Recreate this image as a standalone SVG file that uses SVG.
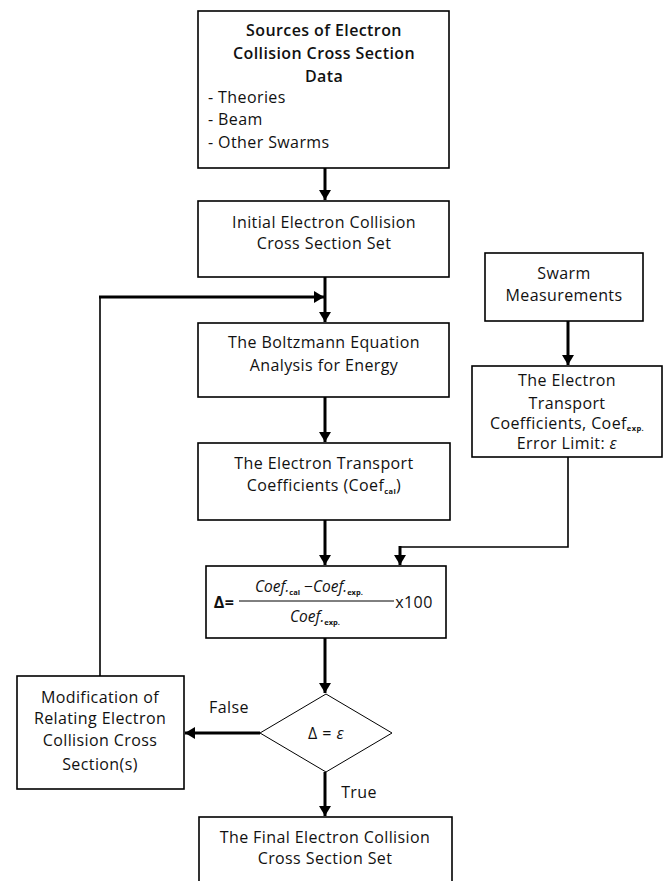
<svg xmlns="http://www.w3.org/2000/svg" width="666" height="881" viewBox="0 0 666 881">
<style>
.box{fill:#fff;stroke:#000;stroke-width:1.6}
.t{font-family:"Open Sans","Liberation Sans",sans-serif;font-size:16px;letter-spacing:0.4px;fill:#111;text-anchor:middle}
.l{text-anchor:start}
.b{font-weight:600}
.c{fill:none;stroke:#000;stroke-width:3}
.thin{fill:none;stroke:#000;stroke-width:1.6}
.m{font-family:"Open Sans","Liberation Sans",sans-serif;font-style:italic;font-size:15.5px;fill:#111}
.s{font-size:7.5px;font-style:normal;font-weight:bold}
</style>
<defs>
<marker id="ah" markerUnits="userSpaceOnUse" markerWidth="12" markerHeight="12" refX="10" refY="6" orient="auto">
<path d="M0,0 L10,6 L0,12 Z" fill="#000"/>
</marker>
</defs>
<g id="connectors">
<line class="c" x1="325" y1="168" x2="325" y2="200" marker-end="url(#ah)"/>
<line class="c" x1="325" y1="277" x2="325" y2="322" marker-end="url(#ah)"/>
<polyline class="thin" points="100,676 100,297"/>
<line class="c" x1="99" y1="297" x2="324" y2="297" marker-end="url(#ah)"/>
<line class="c" x1="325" y1="397" x2="325" y2="442" marker-end="url(#ah)"/>
<line class="c" x1="325" y1="520" x2="325" y2="565" marker-end="url(#ah)"/>
<line class="c" x1="568" y1="321" x2="568" y2="365" marker-end="url(#ah)"/>
<polyline class="thin" points="568,457 568,547 400,547"/>
<line class="c" x1="400" y1="546" x2="400" y2="565" marker-end="url(#ah)"/>
<line class="c" x1="325" y1="638" x2="325" y2="693" marker-end="url(#ah)"/>
<line class="c" x1="260" y1="733" x2="185" y2="733" marker-end="url(#ah)"/>
<line class="c" x1="325" y1="772" x2="325" y2="816" marker-end="url(#ah)"/>
<text class="t" x="229" y="713">False</text>
<text class="t" x="359" y="798">True</text>
</g>
<g id="sources">
<rect class="box" x="198" y="11" width="251" height="157"/>
<text class="t b" x="324" y="36">Sources of Electron</text>
<text class="t b" x="324" y="59">Collision Cross Section</text>
<text class="t b" x="324" y="82">Data</text>
<text class="t l" x="208" y="103">- Theories</text>
<text class="t l" x="208" y="125">- Beam</text>
<text class="t l" x="208" y="148">- Other Swarms</text>
</g>
<g id="initial">
<rect class="box" x="198" y="201" width="251" height="76"/>
<text class="t" x="324" y="228">Initial Electron Collision</text>
<text class="t" x="324" y="249">Cross Section Set</text>
</g>
<g id="boltzmann">
<rect class="box" x="198" y="323" width="251" height="74"/>
<text class="t" x="324" y="348">The Boltzmann Equation</text>
<text class="t" x="324" y="371">Analysis for Energy</text>
</g>
<g id="coefcal">
<rect class="box" x="198" y="443" width="252" height="77"/>
<text class="t" x="324" y="469">The Electron Transport</text>
<text class="t" x="324" y="491">Coefficients (Coef<tspan class="s" dy="3">cal</tspan><tspan dy="-3">)</tspan></text>
</g>
<g id="swarm">
<rect class="box" x="485" y="253" width="158" height="68"/>
<text class="t" x="564" y="279">Swarm</text>
<text class="t" x="564" y="301">Measurements</text>
</g>
<g id="coefexp">
<rect class="box" x="472" y="366" width="190" height="91"/>
<text class="t" x="567" y="386">The Electron</text>
<text class="t" x="567" y="409">Transport</text>
<text class="t" x="567" y="429">Coefficients, Coef<tspan class="s" dy="2">exp.</tspan></text>
<text class="t" x="567" y="449">Error Limit: <tspan font-style="italic">ε</tspan></text>
</g>
<g id="formula">
<rect class="box" x="206" y="566" width="240" height="72"/>
<text class="t" x="224" y="608" font-size="16" font-weight="bold">Δ=</text>
<text class="m" x="255" y="592">Coef.<tspan class="s" dy="3">cal</tspan><tspan dy="-3" font-style="normal"> −</tspan>Coef.<tspan class="s" dy="3">exp.</tspan></text>
<line x1="239" y1="601" x2="394" y2="601" stroke="#000" stroke-width="1"/>
<text class="m" x="290" y="622">Coef.<tspan class="s" dy="3">exp.</tspan></text>
<text class="t" x="414" y="608">x100</text>
</g>
<g id="decision">
<polygon points="326,694 392,733 326,772 260,733" fill="#fff" stroke="#000" stroke-width="1"/>
<text class="t" x="326" y="739" fill="#444">Δ = <tspan font-style="italic">ε</tspan></text>
</g>
<g id="modification">
<rect class="box" x="17" y="676" width="167" height="113"/>
<text class="t" x="100" y="703">Modification of</text>
<text class="t" x="100" y="724">Relating Electron</text>
<text class="t" x="100" y="746">Collision Cross</text>
<text class="t" x="100" y="770">Section(s)</text>
</g>
<g id="final">
<rect class="box" x="199" y="817" width="253" height="70"/>
<text class="t" x="325" y="843">The Final Electron Collision</text>
<text class="t" x="325" y="864">Cross Section Set</text>
</g>
</svg>
